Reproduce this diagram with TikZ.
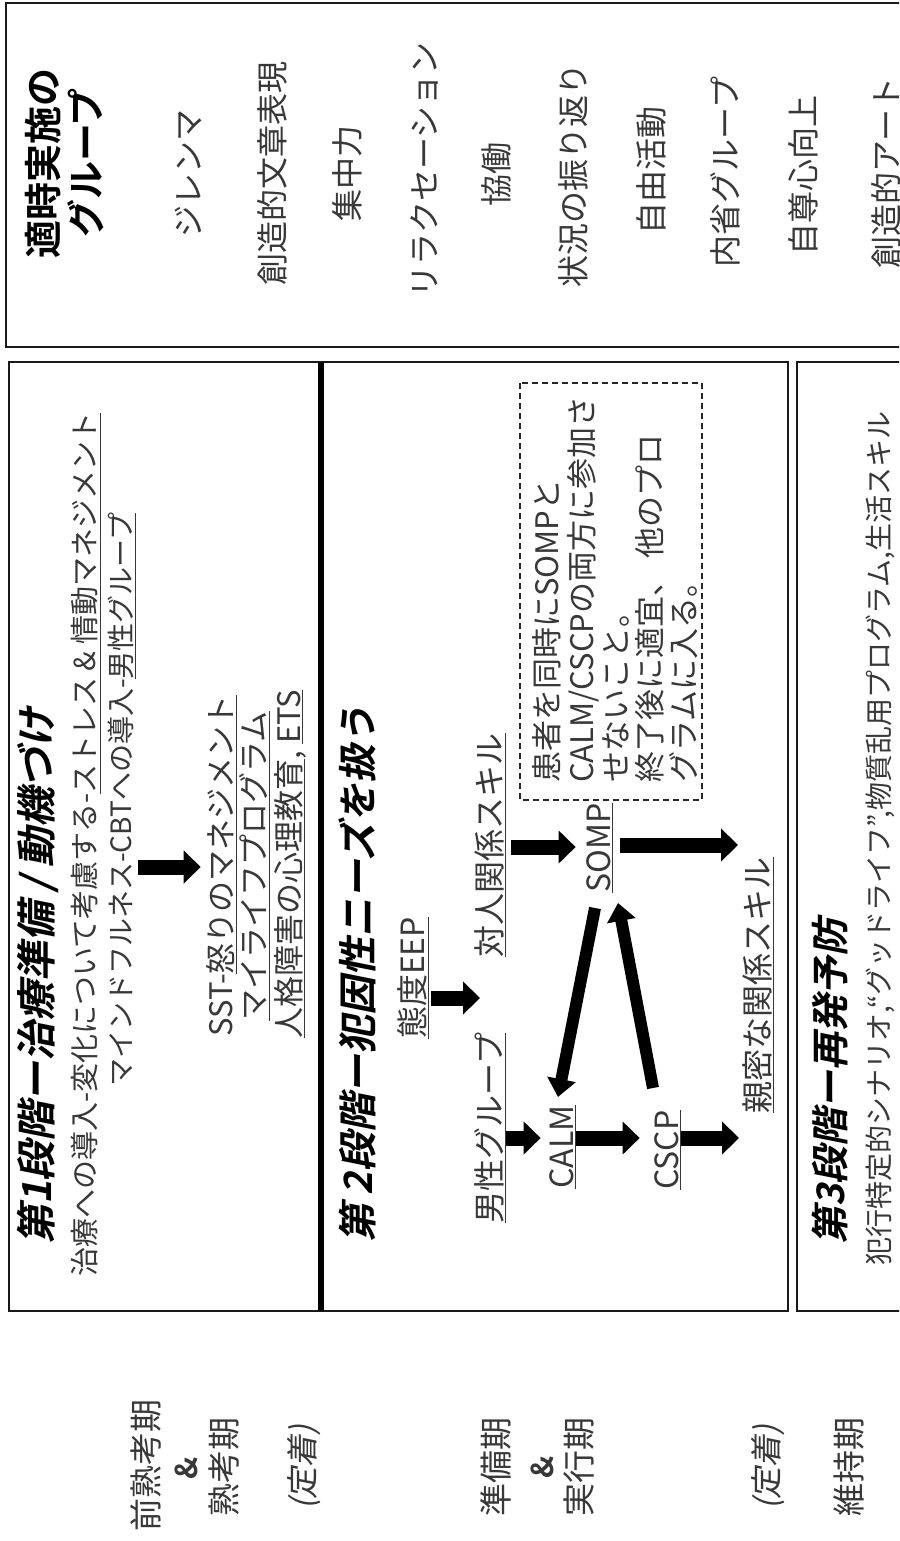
\documentclass[tikz,border=0pt]{standalone}
\usepackage{fontspec}
\setmainfont{Noto Sans CJK JP}
\newfontfamily\jp{Noto Sans CJK JP}
\newfontfamily\jpb{Noto Sans CJK JP Bold}
\newfontfamily\jpbsl{Noto Sans CJK JP Bold}[FakeSlant=0.2]
\newfontfamily\jpsl{Noto Sans CJK JP}[FakeSlant=0.2]
\usetikzlibrary{arrows.meta,calc}
\begin{document}
\begin{tikzpicture}[x=1pt,y=-1pt,
  txt/.style={rotate=90, inner sep=0pt, text=black!78, font=\jp\fontsize{32}{38}\selectfont},
  sub/.style={txt, font=\jp\fontsize{28}{32}\selectfont},
  mid/.style={txt, font=\jp\fontsize{31}{34}\selectfont},
  ttl/.style={rotate=90, inner sep=0pt, text=black, font=\jpbsl\fontsize{38}{44}\selectfont},
  lbl/.style={txt, font=\jp\fontsize{33}{38}\selectfont},
  frame/.style={draw=black!90, line width=2.5pt},
  blk/.style={line width=15pt, -{Triangle[width=32pt,length=17pt]}},
  blkd/.style={line width=12pt, -{Triangle[width=28pt,length=18pt]}},
]
\useasboundingbox (0,0) rectangle (899,1541);
\clip (0,0) rectangle (899,1541);
\fill[white] (0,0) rectangle (899,1541);

% ---------- right-hand group box ----------
\draw[frame] (6,3) rectangle (910,347);
\node[rotate=90, inner sep=0pt, font=\jpb\fontsize{38}{43}\selectfont, align=center] (gt) at (65,163) {適時実施の\\グループ};
\node[txt] (g1) at (189,173) {ジレンマ};
\node[txt] (g2) at (272,173) {創造的文章表現};
\node[txt] (g3) at (347,173) {集中力};
\node[txt] (g4) at (424,170) {リラクセーション};
\node[txt] (g5) at (496,175) {協働};
\node[txt] (g6) at (573,175) {状況の振り返り};
\node[txt] (g7) at (651,170) {自由活動};
\node[txt] (g8) at (725,172) {内省グループ};
\node[txt] (g9) at (803,175) {自尊心向上};
\node[txt] (g10) at (886,173) {創造的アート};

% ---------- stage 1 & 2 frame ----------
\draw[frame] (9,362) rectangle (788,1311);
\draw[line width=6pt] (321,362) -- (321,1311);
\draw[frame] (797,362) rectangle (910,1311);

% ---------- stage 1 ----------
\node[ttl, anchor=west, font=\jpbsl\fontsize{40}{44}\selectfont] (t1) at (38,1245) {第1段階ー治療準備 / 動機づけ};
\node[sub, anchor=west, font=\jp\fontsize{29}{32}\selectfont] (s1a) at (86,1277) {治療への導入-変化について考慮する-\underline{ストレス \& 情動マネジメント}};
\node[sub, anchor=west] (s1b) at (122,1087) {マインドフルネス-CBTへの導入-\underline{男性グループ}};
\node[mid] (sst1) at (222,866) {SST-\underline{怒りのマネジメント}};
\node[mid] (sst2) at (255,866) {\underline{マイライフプログラム}};
\node[mid] (sst3) at (290,864) {\underline{人格障害の心理教育}, \underline{ETS}};
\draw[blk, shorten <=2pt, shorten >=6pt] (s1b.south |- 0,867) -- (sst1.north |- 0,867);

% ---------- stage 2 ----------
\node[ttl, anchor=west, font=\jpbsl\fontsize{39}{44}\selectfont] (t2) at (357,1243) {第 2段階ー犯因性ニーズを扱う};
\node[txt] (eep) at (413,978) {\underline{態度EEP}};
\node[txt] (mg) at (490,1128) {\underline{男性グループ}};
\node[txt] (tj) at (490,845) {\underline{対人関係スキル}};
\node[txt] (calm) at (563,1147) {\underline{CALM}};
\node[txt] (cscp) at (668,1150) {\underline{CSCP}};
\node[txt] (somp) at (600,848) {\underline{SOMP}};
\node[txt] (sk) at (758,985) {\underline{親密な関係スキル}};

\draw[blk, shorten <=2pt] (eep.south |- 0,998) -- ++(51,0);
\draw[blk, shorten >=9pt] (mg.south |- 0,1138) -- (calm.north |- 0,1138);
\draw[blk, shorten >=15pt] (calm.south |- 0,1138) -- (cscp.north |- 0,1138);
\draw[blk, shorten >=3pt] (cscp.south |- 0,1138) -- (sk.north |- 0,1138);
\draw[blk, shorten <=5pt, shorten >=11pt] (tj.south |- 0,847) -- (somp.north |- 0,847);
\draw[blk, shorten <=7pt, shorten >=4pt] (somp.south |- 0,845) -- (sk.north |- 0,845);
\draw[blkd] ($(somp.center)+(-5,60)$) -- ($(calm.center)+(-5,-50)$);
\draw[blkd] ($(cscp.center)+(-15,-62)$) -- ($(somp.center)+(18,55)$);

\draw[line width=1.5pt, dash pattern=on 6pt off 4pt, draw=black!85] (520,383) rectangle (702,800);
\node[mid, align=left, anchor=west, font=\jp\fontsize{31}{34.25}\selectfont] (note) at (615.5,783)
  {患者を同時にSOMPと\\CALM/CSCPの両方に参加さ\\せないこと。\\終了後に適宜、 他のプロ\\グラムに入る。};

% ---------- stage 3 ----------
\node[ttl, anchor=west] (t3) at (830,1245) {第3段階ー再発予防};
\node[sub, anchor=west] (s3) at (880,1266) {犯行特定的シナリオ,“グッドライフ”,物質乱用プログラム,生活スキル};

% ---------- phase labels ----------
\node[lbl] (p1) at (146,1465) {前熟考期};
\node[lbl, font=\jpb\fontsize{30}{34}\selectfont] (p1amp) at (186,1468) {\&};
\node[lbl] (p2) at (224,1467) {熟考期};
\node[lbl, font=\jpsl\fontsize{32}{38}\selectfont] (p3) at (304,1467) {(定着)};
\node[lbl] (p4) at (496,1467) {準備期};
\node[lbl, font=\jpb\fontsize{30}{34}\selectfont] (p4amp) at (542,1467) {\&};
\node[lbl] (p5) at (579,1467) {実行期};
\node[lbl, font=\jpsl\fontsize{32}{38}\selectfont] (p6) at (768,1467) {(定着)};
\node[lbl] (p7) at (849,1467) {維持期};
\end{tikzpicture}
\end{document}
